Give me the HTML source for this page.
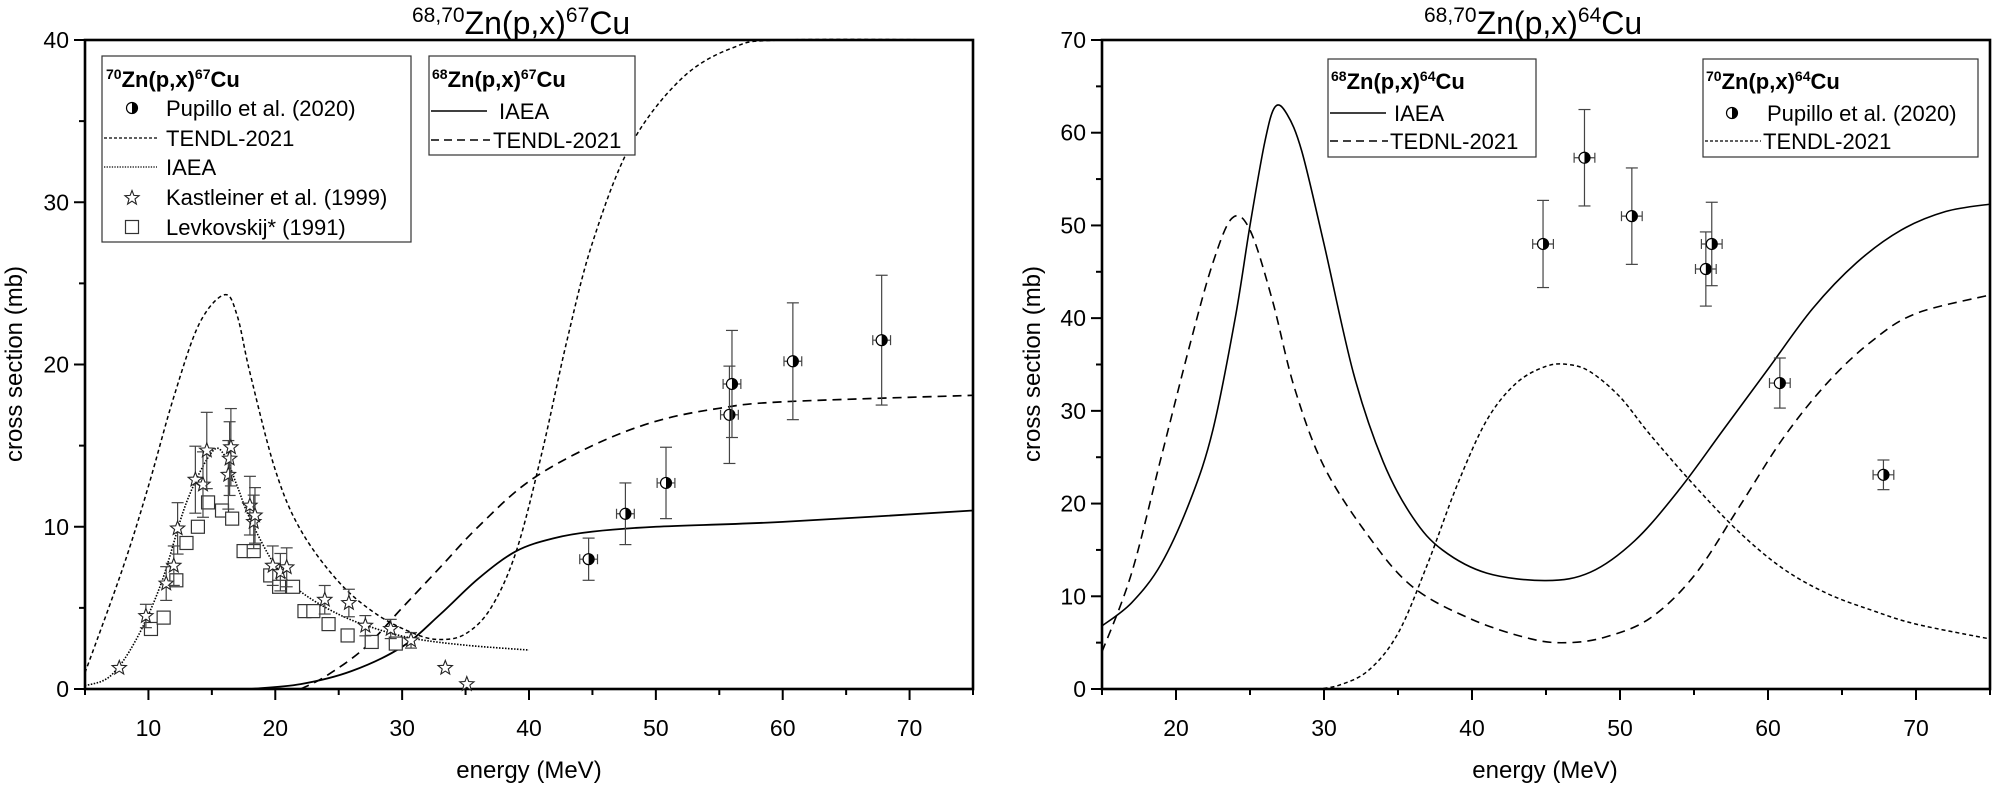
<!DOCTYPE html>
<html><head><meta charset="utf-8"><style>
html,body{margin:0;padding:0;background:#fff;}
svg{display:block;font-family:"Liberation Sans",Arial,sans-serif;}
</style></head><body>
<svg id="s" width="1993" height="789" xmlns="http://www.w3.org/2000/svg">
<rect width="1993" height="789" fill="#fff"/>
<text x="412" y="34" font-size="32"><tspan font-size="21" dy="-12">68,70</tspan><tspan dy="12">Zn(p,x)</tspan><tspan font-size="21" dy="-12">67</tspan><tspan dy="12">Cu</tspan></text>
<text x="1424" y="34" font-size="32"><tspan font-size="21" dy="-12">68,70</tspan><tspan dy="12">Zn(p,x)</tspan><tspan font-size="21" dy="-12">64</tspan><tspan dy="12">Cu</tspan></text>
<text transform="translate(22,364) rotate(-90)" font-size="24" text-anchor="middle">cross section (mb)</text>
<text transform="translate(1040,364) rotate(-90)" font-size="24" text-anchor="middle">cross section (mb)</text>
<text x="529" y="778" font-size="24" text-anchor="middle">energy (MeV)</text>
<text x="1545" y="778" font-size="24" text-anchor="middle">energy (MeV)</text>
<g id="g"></g>
<g font-size="22">
<rect x="102" y="56" width="309" height="186" fill="#fff" stroke="#333" stroke-width="1.2"/>
<text x="106" y="87" font-weight="bold" font-size="22"><tspan font-size="14" dy="-8">70</tspan><tspan dy="8">Zn(p,x)</tspan><tspan font-size="14" dy="-8">67</tspan><tspan dy="8">Cu</tspan></text>
<text x="166" y="116">Pupillo et al. (2020)</text>
<text x="166" y="146">TENDL-2021</text>
<text x="166" y="175">IAEA</text>
<text x="166" y="205">Kastleiner et al. (1999)</text>
<text x="166" y="235">Levkovskij* (1991)</text>
<line x1="104" y1="138" x2="157" y2="138" stroke="#000" stroke-width="1.3" stroke-dasharray="3,2"/>
<line x1="104" y1="167" x2="157" y2="167" stroke="#000" stroke-width="1.3" stroke-dasharray="1.3,1.3"/>
<rect x="429" y="56" width="206" height="99" fill="#fff" stroke="#333" stroke-width="1.2"/>
<text x="432" y="87" font-weight="bold" font-size="22"><tspan font-size="14" dy="-8">68</tspan><tspan dy="8">Zn(p,x)</tspan><tspan font-size="14" dy="-8">67</tspan><tspan dy="8">Cu</tspan></text>
<text x="499" y="119">IAEA</text>
<text x="493" y="148">TENDL-2021</text>
<line x1="431" y1="111" x2="487" y2="111" stroke="#000" stroke-width="1.5"/>
<line x1="431" y1="140" x2="490" y2="140" stroke="#000" stroke-width="1.5" stroke-dasharray="8,5"/>
<rect x="1328" y="59" width="208" height="98" fill="#fff" stroke="#333" stroke-width="1.2"/>
<text x="1331" y="89" font-weight="bold" font-size="22"><tspan font-size="14" dy="-8">68</tspan><tspan dy="8">Zn(p,x)</tspan><tspan font-size="14" dy="-8">64</tspan><tspan dy="8">Cu</tspan></text>
<text x="1394" y="121">IAEA</text>
<text x="1390" y="149">TEDNL-2021</text>
<line x1="1330" y1="113" x2="1386" y2="113" stroke="#000" stroke-width="1.5"/>
<line x1="1330" y1="141" x2="1388" y2="141" stroke="#000" stroke-width="1.5" stroke-dasharray="8,5"/>
<rect x="1703" y="59" width="275" height="98" fill="#fff" stroke="#333" stroke-width="1.2"/>
<text x="1706" y="89" font-weight="bold" font-size="22"><tspan font-size="14" dy="-8">70</tspan><tspan dy="8">Zn(p,x)</tspan><tspan font-size="14" dy="-8">64</tspan><tspan dy="8">Cu</tspan></text>
<text x="1767" y="121">Pupillo et al. (2020)</text>
<text x="1763" y="149">TENDL-2021</text>
<line x1="1705" y1="141" x2="1761" y2="141" stroke="#000" stroke-width="1.3" stroke-dasharray="3,2"/>
</g>
<g id="lm"></g>
</svg>
<script>
var NS="http://www.w3.org/2000/svg",G=document.getElementById('g'),LM=document.getElementById('lm');
function el(t,a,p){var e=document.createElementNS(NS,t);for(var k in a)e.setAttribute(k,a[k]);(p||G).appendChild(e);return e;}
var L={x0:85,x1:973,e0:5,e1:75,y0:689,y1:40,s1:40},R={x0:1102,x1:1990,e0:15,e1:75,y0:689,y1:40,s1:70};
function X(P,e){return P.x0+(e-P.e0)*(P.x1-P.x0)/(P.e1-P.e0);}
function Y(P,s){return P.y0-s*(P.y0-P.y1)/P.s1;}
function curve(P,pts,dash,w){var p=pts.map(function(q){return [X(P,q[0]),Y(P,q[1])];});
 var d="M"+p[0][0]+","+p[0][1];
 for(var i=0;i<p.length-1;i++){var a=p[i-1]||p[i],b=p[i],c=p[i+1],n=p[i+2]||c;
  d+="C"+(b[0]+(c[0]-a[0])/6)+","+(b[1]+(c[1]-a[1])/6)+" "+(c[0]-(n[0]-b[0])/6)+","+(c[1]-(n[1]-b[1])/6)+" "+c[0]+","+c[1];}
 el('path',{d:d,fill:'none',stroke:'#000','stroke-width':w||1.6,'stroke-dasharray':dash||'none'});}
function ebar(P,e,s,dy,dx){var x=X(P,e),y=Y(P,s),ya=Y(P,s+dy),yb=Y(P,s-dy);
 el('line',{x1:x,y1:ya,x2:x,y2:yb,stroke:'#444','stroke-width':1.2});
 el('line',{x1:x-6,y1:ya,x2:x+6,y2:ya,stroke:'#444','stroke-width':1.2});
 el('line',{x1:x-6,y1:yb,x2:x+6,y2:yb,stroke:'#444','stroke-width':1.2});
 if(dx){var xa=X(P,e-dx),xb=X(P,e+dx);el('line',{x1:xa,y1:y,x2:xb,y2:y,stroke:'#444','stroke-width':1.2});
 el('line',{x1:xa,y1:y-5,x2:xa,y2:y+5,stroke:'#444','stroke-width':1.2});el('line',{x1:xb,y1:y-5,x2:xb,y2:y+5,stroke:'#444','stroke-width':1.2});}}
function half(x,y,par){el('circle',{cx:x,cy:y,r:5.5,fill:'#fff',stroke:'#000','stroke-width':1.2},par);
 el('path',{d:"M"+x+","+(y-5.5)+"A5.5,5.5 0 0 1 "+x+","+(y+5.5)+"Z",fill:'#000'},par);}
function star(x,y,par){var d="";for(var i=0;i<10;i++){var r=i%2?3.2:7.5,a=-Math.PI/2+i*Math.PI/5;d+=(i?"L":"M")+(x+r*Math.cos(a)).toFixed(1)+","+(y+r*Math.sin(a)).toFixed(1);}
 el('path',{d:d+"Z",fill:'#fff',stroke:'#222','stroke-width':1.1},par);}
function sq(x,y,par){el('rect',{x:x-6.5,y:y-6.5,width:13,height:13,fill:'#fff',stroke:'#333','stroke-width':1.2},par);}
function axes(P,ymaj,ymin){
 el('rect',{x:P.x0,y:P.y1,width:P.x1-P.x0,height:P.y0-P.y1,fill:'none',stroke:'#000','stroke-width':2.6});
 for(var s=0;s<=P.s1;s+=ymin){var y=Y(P,s),mj=(s%ymaj==0);el('line',{x1:P.x0,y1:y,x2:P.x0-(mj?11:6),y2:y,stroke:'#000','stroke-width':2});
  if(mj){var t=el('text',{x:P.x0-16,y:y+8,'font-size':23,'text-anchor':'end'});t.textContent=s;}}
 for(var e=P.e0;e<=P.e1;e+=5){var x=X(P,e),mj=(e%10==0);el('line',{x1:x,y1:P.y0,x2:x,y2:P.y0+(mj?11:6),stroke:'#000','stroke-width':2});
  if(mj){var t=el('text',{x:x,y:736,'font-size':23,'text-anchor':'middle'});t.textContent=e;}}}
axes(L,10,5);axes(R,10,5);
var SD="4,3",DOT="1.5,1.5",LD="9,6";
curve(L,[[5,1],[8,7.5],[10,12.5],[12,18],[14,22.5],[16,24.3],[17,23],[18,19.5],[20,13.5],[22,9.8],[25,6.6],[28,4.6],[31,3.4],[33,3.05],[35,3.4],[37,5],[39,8.5],[41,14.5],[43,21.5],[45,27.5],[48,33.5],[52,37.6],[56,39.5],[60,40],[75,40]],SD,1.5);
curve(L,[[5,0.2],[7,0.8],[9,3],[11,6.5],[13,11.5],[15,14.6],[16,14.4],[17,12.5],[18,10.5],[20,7.6],[22,6],[25,4.6],[28,3.7],[31,3.1],[35,2.7],[40,2.4]],DOT,1.6);
curve(L,[[18,0],[22,0.3],[26,1.1],[30,2.6],[33,4.6],[36,6.8],[39,8.5],[42,9.3],[45,9.7],[50,10],[60,10.3],[75,11]],null,1.8);
curve(L,[[22,0],[24,0.8],[27,2.5],[30,5],[33,7.5],[36,10],[40,12.8],[45,15],[50,16.5],[55,17.3],[60,17.7],[75,18.1]],LD,1.7);
[[10.2,3.7],[11.2,4.4],[12.2,6.7],[13,9],[13.9,10],[14.7,11.5],[15.8,11],[16.6,10.5],[17.5,8.5],[18.3,8.5],[19.6,7],[20.3,6.3],[21.4,6.3],[22.3,4.8],[23,4.8],[24.2,4],[25.7,3.3],[27.6,2.9],[29.5,2.8]].forEach(function(q){sq(X(L,q[0]),Y(L,q[1]));});
[[7.7,1.3],[9.8,4.5],[11.4,6.5],[12,7.6],[12.3,9.9],[13.7,12.9],[14.3,12.6],[14.6,14.7],[16.3,13.2],[16.4,14.2],[16.5,14.9],[18,11.3],[18.3,10.3],[18.4,10.7],[19.8,7.6],[20.4,7.2],[20.9,7.5],[23.9,5.5],[25.8,5.3],[27.1,3.9],[29.1,3.7],[30.7,3],[33.4,1.3],[35.1,0.3]].forEach(function(q){
 if(q[0]>9&&q[0]<32)ebar(L,q[0],q[1],q[1]*0.16);star(X(L,q[0]),Y(L,q[1]));});
[[44.7,8,1.3],[47.6,10.8,1.9],[50.8,12.7,2.2],[55.8,16.9,3],[56,18.8,3.3],[60.8,20.2,3.6],[67.8,21.5,4]].forEach(function(q){ebar(L,q[0],q[1],q[2],0.7);half(X(L,q[0]),Y(L,q[1]));});
curve(R,[[15,6.8],[17,9.3],[19,13.5],[21,20.5],[22.5,28],[24,40],[25,50],[26,59],[26.7,62.8],[27.5,62],[28.5,58],[30,48],[32,34],[34,24.5],[36,18.5],[38,15],[41,12.5],[45,11.7],[48,12.6],[51,16],[54,21.5],[57,28],[60,34.5],[63,41],[66,46],[69,49.5],[72,51.5],[75,52.3]],null,1.6);
curve(R,[[15,4],[17,12.5],[19,25],[21,37.5],[22.5,46],[23.8,50.8],[25,49.5],[26.5,42],[28,32.5],[30,24],[33,16.5],[36,11],[40,7.5],[44,5.4],[46.5,5],[49,5.6],[52,7.6],[55,12.2],[58,19.5],[61,27],[64,33],[67,37.5],[70,40.5],[75,42.5]],LD,1.6);
curve(R,[[29.5,0],[31,0.4],[33,2],[35,6],[37,13.5],[39,22],[41,29],[43,33],[45,34.8],[46.5,35],[48,34.2],[50,31.5],[52,27.5],[55,22],[58,17],[61,13],[64,10.3],[67,8.5],[70,7],[75,5.4]],SD,1.5);
[[44.8,48,4.7],[47.6,57.3,5.2],[50.8,51,5.2],[55.8,45.3,4],[56.2,48,4.5],[60.8,33,2.7],[67.8,23.1,1.6]].forEach(function(q){ebar(R,q[0],q[1],q[2],0.7);half(X(R,q[0]),Y(R,q[1]));});
half(132,108,LM);star(132,198,LM);sq(132,227,LM);half(1732,113,LM);
</script>
</body></html>
